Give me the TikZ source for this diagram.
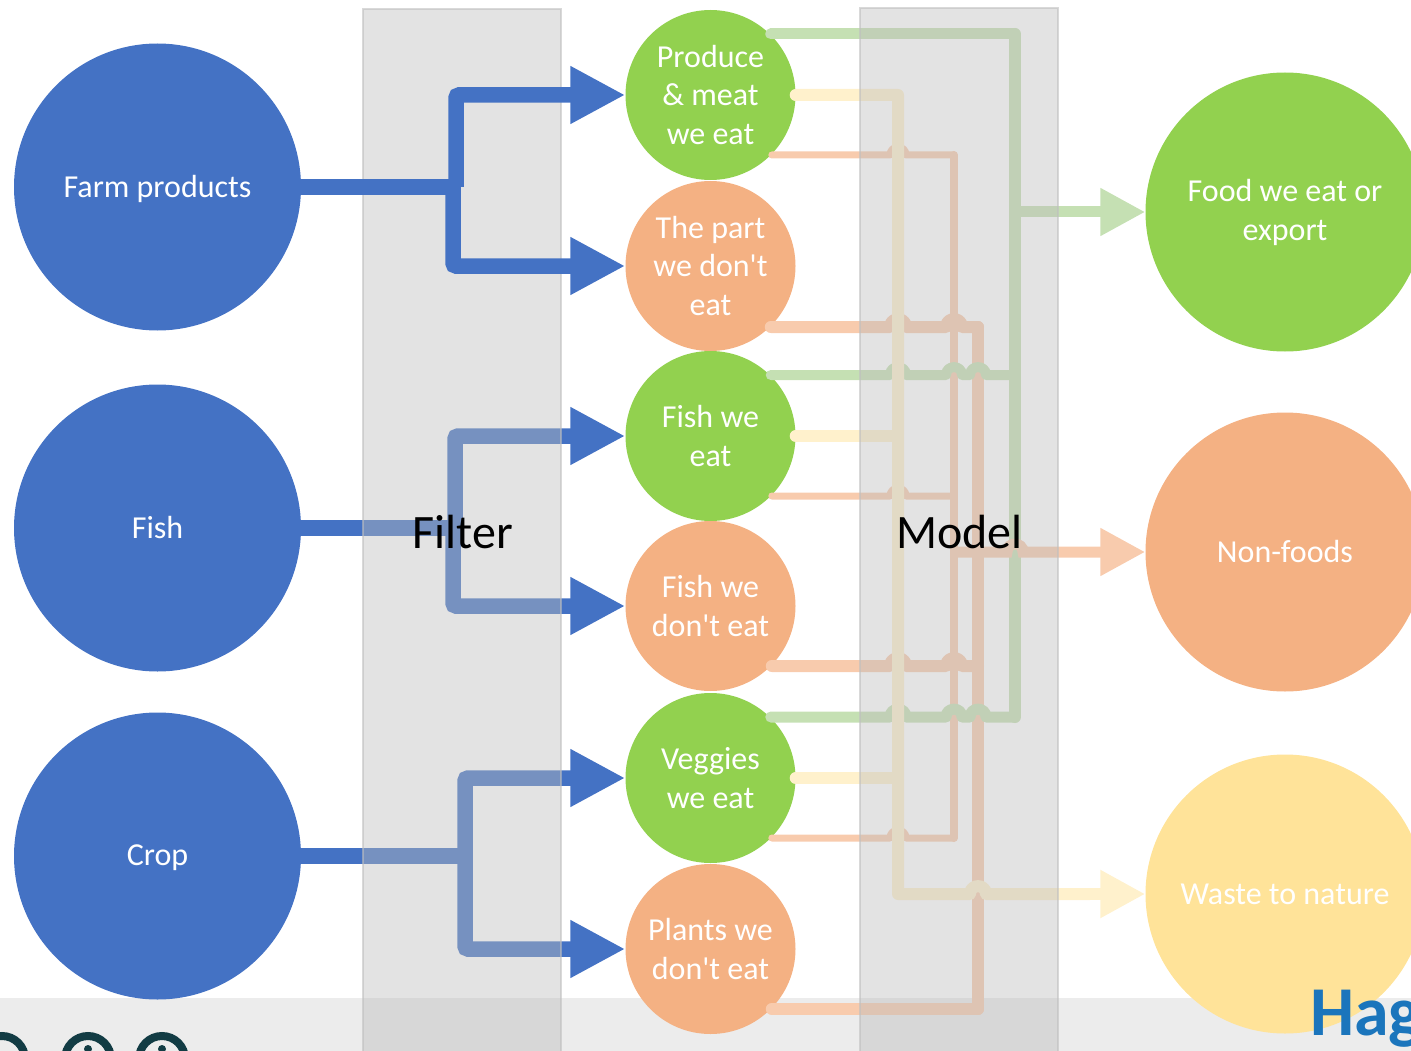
\documentclass[tikz,border=0pt]{standalone}
\usepackage{fontspec}
\setmainfont{Carlito}
\usetikzlibrary{arrows.meta}
\definecolor{cblue}{HTML}{4472C4}
\definecolor{cgreen}{HTML}{92D14F}
\definecolor{corange}{HTML}{F4B183}
\definecolor{cyellow}{HTML}{FFE399}
\definecolor{lgreen}{HTML}{C5E0B3}
\definecolor{lorange}{HTML}{F8CBAD}
\definecolor{lyellow}{HTML}{FFF1CC}
\definecolor{band}{HTML}{ECECEC}
\definecolor{panelfill}{HTML}{BCBCBC}
\definecolor{iconcol}{HTML}{123C44}
\definecolor{hagcol}{HTML}{1B75BC}
\newcommand{\jp}[2]{-- (#1-8,#2) .. controls (#1-8,#2-10.5) and (#1+8,#2-10.5) .. (#1+8,#2)}
\newcommand{\apo}{\textquotesingle}
\tikzset{
  bigc/.style={circle,fill=cblue,minimum size=287pt,inner sep=0pt,text=white,font=\fontsize{32}{38}\selectfont},
  midc/.style={circle,minimum size=170pt,inner sep=0pt,text=white,align=center,font=\fontsize{32}{38.7}\selectfont},
  endc/.style={circle,minimum size=279pt,inner sep=0pt,text=white,align=center,font=\fontsize{32}{39}\selectfont},
  panel/.style={fill=panelfill,fill opacity=.42,draw=black!25,draw opacity=.6,line width=1.5pt},
  plabel/.style={font=\fontsize{48}{52}\selectfont,text=black,inner sep=0pt},
  feed/.style={draw=cblue,line width=15.5pt,rounded corners=3pt,-{Triangle[length=55pt,width=54pt]}},
  trunk/.style={draw=cblue,line width=15.5pt},
  flow/.style={line cap=round,line join=round},
  outarrow/.style={-{Triangle[length=45pt,width=45pt]}},
}
\begin{document}
\begin{tikzpicture}[x=1pt,y=-1pt]
\useasboundingbox (0,0) rectangle (1411,1051);
\clip (0,0) rectangle (1411,1051);
\fill[band] (0,998) rectangle (1411,1051);
% nodes
\node[bigc,text depth=2pt] (l1) at (157.5,187) {Farm products};
\node[bigc] (l2) at (157.5,528) {Fish};
\node[bigc,text depth=2pt] (l3) at (157.5,856) {Crop};
\node[midc,fill=cgreen] (m1) at (710.5,95) {Produce\\\&~meat\\we eat};
\node[midc,fill=corange] (m2) at (710.5,266) {The part\\we don\apo t\\eat};
\node[midc,fill=cgreen] (m3) at (710.5,436) {Fish we\\eat};
\node[midc,fill=corange] (m4) at (710.5,606) {Fish we\\don\apo t eat};
\node[midc,fill=cgreen] (m5) at (710.5,778) {Veggies\\we eat};
\node[midc,fill=corange] (m6) at (710.5,949) {Plants we\\don\apo t eat};
\node[endc,fill=cgreen] (r1) at (1285,212) {Food we eat or\\export};
\node[endc,fill=corange] (r2) at (1285,552) {Non-foods};
\node[endc,fill=cyellow] (r3) at (1285,894) {Waste to nature};
% junction points
\coordinate (jf) at (1015,212);
\coordinate (jo) at (952,552);
\coordinate (jy) at (1090,894);
\coordinate (oa) at (954,155);
\coordinate (ob) at (954,496);
\coordinate (oc) at (954,838);
\coordinate (od) at (978,327);
\coordinate (oe) at (978,666);
\coordinate (of) at (978,1009);
\coordinate (ga) at (1015,34);
\coordinate (gb) at (1015,375);
\coordinate (gc) at (1015,717);
\coordinate (ya) at (898,95);
\coordinate (yb) at (898,436);
\coordinate (yc) at (898,778);
% fish and crop feeds (under the Filter panel)
\draw[trunk] (l2.east) -- (455,528);
\draw[feed] (455,528) |- (m3.west);
\draw[feed] (453,528) |- (m4.west);
\draw[trunk] (l3.east) -- (465,856);
\draw[feed] (465,856) |- (m5.west);
\draw[feed] (465,856) |- (m6.west);
% orange verticals
\draw[flow,draw=lorange,line width=8pt] (oa) -- (oc);
\draw[flow,draw=lorange,line width=12pt] (od) -- (of);
% green trunk
\draw[flow,draw=lgreen,line width=12pt] (ga) -- (gc);
% orange horizontals
\draw[flow,draw=lorange,line width=7pt] (m1.-44.5 |- oa) \jp{898}{155} -- (oa);
\draw[flow,draw=lorange,line width=7pt] (m3.-44.5 |- ob) \jp{898}{496} -- (ob);
\draw[flow,draw=lorange,line width=7pt] (m5.-44.5 |- oc) \jp{898}{838} -- (oc);
\draw[flow,draw=lorange,line width=12pt] (m2.-45.6 |- od) \jp{898}{327} \jp{954}{327} -- (od);
\draw[flow,draw=lorange,line width=12pt] (m4.-44.5 |- oe) \jp{898}{666} \jp{954}{666} -- (oe);
\draw[flow,draw=lorange,line width=12pt] (m6.-44.5 |- of) -- (of);
\draw[outarrow,line width=11pt,draw=lorange] (jo) \jp{1015}{552} -- (r2.west);
% green
\draw[flow,draw=lgreen,line width=11pt] (m1.45.6 |- ga) -- (ga);
\draw[flow,draw=lgreen,line width=10pt] (m3.45.6 |- gb) \jp{898}{375} \jp{954}{375} \jp{978}{375} -- (gb);
\draw[flow,draw=lgreen,line width=11pt] (m5.45.6 |- gc) \jp{898}{717} \jp{954}{717} \jp{978}{717} -- (gc);
\draw[outarrow,line width=11pt,draw=lgreen] (jf) -- (r1.west);
% yellow
\draw[flow,draw=lyellow,line width=12pt] (m3.east) -- (yb);
\draw[flow,draw=lyellow,line width=12pt] (m5.east) -- (yc);
\draw[flow,draw=lyellow,line width=12pt] (m1.east) -- (ya) -- (898,894) \jp{978}{894} -- (jy);
\draw[outarrow,line width=12pt,draw=lyellow] (jy) -- (r3.west);
% panels
\path[panel] (363,9) rectangle (561,1060);
\path[panel] (860,8) rectangle (1058,1060);
% farm feeds (over the Filter panel)
\draw[trunk] (l1.east) -- (456,187);
\draw[feed] (456,187) |- (m1.west);
\draw[feed] (453,187) |- (m2.west);
\node[plabel] (filter) at (463,532) {Filter};
\node[plabel] (model) at (959.5,532) {Model};
% footer
\node[anchor=base west,inner sep=0pt,text=hagcol,font=\fontsize{70}{72}\bfseries\selectfont] (hag) at (1310,1035) {Hag};
\draw[iconcol,line width=8pt] (2,1059) circle (23);
\draw[iconcol,line width=8pt] (88,1059) circle (23);
\draw[iconcol,line width=8pt] (162,1059) circle (23);
\fill[iconcol] (88,1049) circle (4);
\fill[iconcol] (162,1049) circle (4);
\end{tikzpicture}
\end{document}
